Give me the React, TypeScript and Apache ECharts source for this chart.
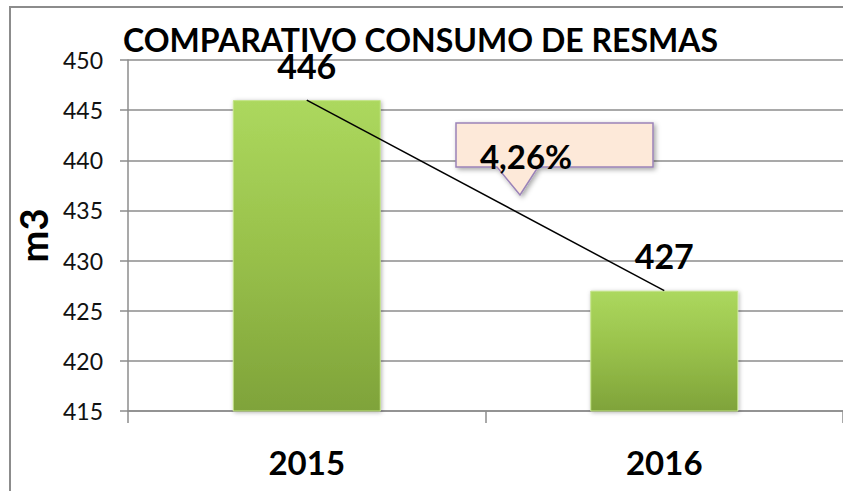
import React, { useEffect, useRef } from "react";
import * as echarts from "echarts";

const categories = ["2015", "2016"];
const consumo = [446, 427];
const yTicks = { min: 415, max: 450, interval: 5 };
const titleText = "COMPARATIVO CONSUMO DE RESMAS";
const axisName = "m3";
const calloutText = "4,26%";

export default function App() {
  const ref = useRef<HTMLDivElement>(null);
  useEffect(() => {
    if (!ref.current) return;
    const chart = echarts.init(ref.current, null, { renderer: "svg" });
    const font = "Lato, 'Open Sans', sans-serif";
    const grey = "#8c8c8c";
    chart.setOption({
      animation: false,
      backgroundColor: "#ffffff",
      textStyle: { fontFamily: font },
      title: {
        text: titleText,
        left: 123,
        top: 26,
        padding: 0,
        textStyle: { fontFamily: font, fontWeight: "bold", fontSize: 32, color: "#000", lineHeight: 26 },
      },
      grid: { left: 128, top: 60, width: 720, height: 351, containLabel: false },
      xAxis: {
        type: "category",
        data: categories,
        axisLine: { lineStyle: { color: grey, width: 1.5 } },
        axisTick: { show: true, length: 12, lineStyle: { color: grey, width: 1.5 } },
        axisLabel: { fontFamily: font, fontWeight: "bold", fontSize: 33, color: "#000", margin: 34 },
      },
      yAxis: {
        type: "value",
        min: yTicks.min,
        max: yTicks.max,
        interval: yTicks.interval,
        name: axisName,
        nameLocation: "middle",
        nameGap: 74,
        nameRotate: 90,
        nameTextStyle: { fontFamily: font, fontWeight: "bold", fontSize: 38, color: "#000" },
        axisLine: { show: true, lineStyle: { color: grey, width: 1.5 } },
        axisTick: { show: true, length: 8, lineStyle: { color: grey, width: 1.5 } },
        axisLabel: { fontFamily: font, fontSize: 23, color: "#111", margin: 25 },
        splitLine: { show: true, lineStyle: { color: grey, width: 1.5 } },
      },
      series: [
        {
          type: "bar",
          data: consumo,
          barWidth: 148,
          itemStyle: {
            color: new echarts.graphic.LinearGradient(0, 0, 0, 1, [
              { offset: 0, color: "#acd85e" },
              { offset: 0.5, color: "#98c04a" },
              { offset: 1, color: "#7fa33a" },
            ]),
            borderColor: "#c4e48a",
            borderWidth: 1,
            shadowColor: "rgba(0,0,0,0.3)",
            shadowBlur: 4,
            shadowOffsetX: 1,
            shadowOffsetY: 1,
          },
          label: {
            show: true,
            position: "top",
            distance: 22,
            fontFamily: font,
            fontWeight: "bold",
            fontSize: 34,
            lineHeight: 26,
            color: "#000",
          },
          z: 2,
        },
        {
          type: "line",
          data: consumo,
          symbol: "none",
          lineStyle: { color: "#000", width: 1.5 },
          z: 5,
        },
      ],
      graphic: [
        {
          type: "rect",
          shape: { x: 10, y: 7, width: 900, height: 600 },
          style: { fill: "none", stroke: grey, lineWidth: 2 },
          z: 0,
        },
        {
          type: "polygon",
          shape: {
            points: [
              [456, 123], [653, 123], [653, 167], [538, 167], [520, 195], [497, 167], [456, 167],
            ],
          },
          style: {
            fill: "#fde9d9",
            stroke: "#9b83b8",
            lineWidth: 1.5,
            shadowColor: "rgba(0,0,0,0.35)",
            shadowBlur: 5,
            shadowOffsetX: 2,
            shadowOffsetY: 2,
          },
          z: 10,
        },
        {
          type: "text",
          x: 526,
          y: 156,
          style: {
            text: calloutText,
            fontFamily: font,
            fontWeight: "bold",
            fontSize: 33,
            fill: "#000",
            align: "center",
            verticalAlign: "middle",
          },
          z: 11,
        },
      ],
    });
    return () => chart.dispose();
  }, []);
  return (
    <div
      ref={ref}
      style={{ position: "fixed", left: 0, top: 0, width: 843, height: 491, background: "#fff" }}
    />
  );
}
